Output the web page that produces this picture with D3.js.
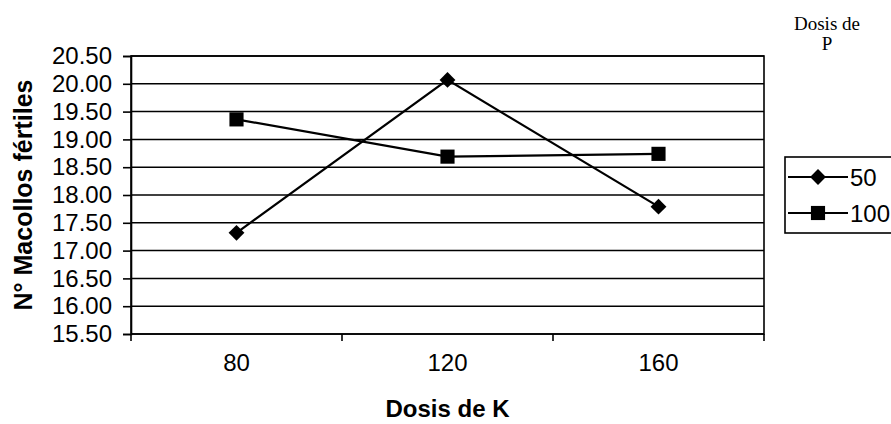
<!DOCTYPE html>
<html lang="es">
<head>
<meta charset="UTF-8">
<title>N° Macollos fértiles vs Dosis de K</title>
<script src="https://d3js.org/d3.v7.min.js"></script>
<style>
  body { margin: 0; background: #fff; }
  svg text { font-family: "Liberation Sans", Arial, sans-serif; fill: #000; }
</style>
</head>
<body>
<div id="chart"></div>
<script>
// data
const doses = ["80", "120", "160"];
const seriesNames = ["50", "100"];
const p50 = [17.32, 20.07, 17.79];
const p100 = [19.36, 18.69, 18.74];
const yTicks = [15.5, 16, 16.5, 17, 17.5, 18, 18.5, 19, 19.5, 20, 20.5];

const width = 891, height = 424;
const margin = { top: 56, right: 127, bottom: 90, left: 131 };

const svg = d3.select("#chart").append("svg")
    .attr("width", width)
    .attr("height", height);

const x = d3.scaleBand()
    .domain(doses)
    .range([margin.left, width - margin.right]);

const y = d3.scaleLinear()
    .domain([15.5, 20.5])
    .range([height - margin.bottom, margin.top]);

// gridlines
svg.append("g")
    .selectAll("line")
    .data(yTicks)
    .join("line")
    .attr("x1", margin.left)
    .attr("x2", width - margin.right)
    .attr("y1", d => y(d))
    .attr("y2", d => y(d))
    .attr("stroke", "#000")
    .attr("stroke-width", 1.5);

// plot frame
svg.append("rect")
    .attr("x", margin.left)
    .attr("y", margin.top)
    .attr("width", width - margin.right - margin.left)
    .attr("height", height - margin.bottom - margin.top)
    .attr("fill", "none")
    .attr("stroke", "#000")
    .attr("stroke-width", 1.6);

// y axis
const yAxis = svg.append("g")
    .attr("transform", `translate(${margin.left},0)`)
    .call(d3.axisLeft(y).tickValues(yTicks).tickFormat(d3.format(".2f")).tickSize(8).tickPadding(11));
yAxis.select(".domain").attr("stroke-width", 1.6);
yAxis.selectAll("line").attr("stroke-width", 1.6);
yAxis.selectAll("text").style("font-size", "24px");

// x axis: ticks between categories
const bounds = [margin.left, ...doses.slice(1).map(d => x(d)), width - margin.right];
svg.append("g")
    .selectAll("line")
    .data(bounds)
    .join("line")
    .attr("x1", d => d)
    .attr("x2", d => d)
    .attr("y1", y(15.5))
    .attr("y2", y(15.5) + 7)
    .attr("stroke", "#000")
    .attr("stroke-width", 1.6);

svg.append("g")
    .selectAll("text")
    .data(doses)
    .join("text")
    .attr("x", d => x(d) + x.bandwidth() / 2)
    .attr("y", y(15.5) + 37)
    .attr("text-anchor", "middle")
    .style("font-size", "24px")
    .text(d => d);

// axis titles
svg.append("text")
    .attr("x", (margin.left + width - margin.right) / 2)
    .attr("y", 417)
    .attr("text-anchor", "middle")
    .style("font-size", "24px")
    .style("font-weight", "bold")
    .text("Dosis de K");

svg.append("text")
    .attr("transform", `translate(32,${(margin.top + height - margin.bottom) / 2}) rotate(-90)`)
    .attr("text-anchor", "middle")
    .style("font-size", "25px")
    .style("font-weight", "bold")
    .text("N° Macollos fértiles");

// series
const cx = i => x(doses[i]) + x.bandwidth() / 2;
const line = d3.line().x((d, i) => cx(i)).y(d => y(d));
const diamond = d3.symbol().type(d3.symbolDiamond2).size(160);
const square = d3.symbol().type(d3.symbolSquare).size(200);

[[p50, diamond], [p100, square]].forEach(([vals, sym]) => {
    svg.append("path")
        .datum(vals)
        .attr("d", line)
        .attr("fill", "none")
        .attr("stroke", "#000")
        .attr("stroke-width", 2.2);
    svg.append("g")
        .selectAll("path")
        .data(vals)
        .join("path")
        .attr("transform", (d, i) => `translate(${cx(i)},${y(d)})`)
        .attr("d", sym)
        .attr("fill", "#000");
});

// legend
const legend = svg.append("g").attr("transform", "translate(785,157)");
legend.append("rect")
    .attr("width", 120)
    .attr("height", 76)
    .attr("fill", "#fff")
    .attr("stroke", "#000")
    .attr("stroke-width", 1.6);
seriesNames.forEach((name, i) => {
    const ly = 20 + i * 36;
    legend.append("line")
        .attr("x1", 3).attr("x2", 63)
        .attr("y1", ly).attr("y2", ly)
        .attr("stroke", "#000").attr("stroke-width", 2.2);
    legend.append("path")
        .attr("transform", `translate(33,${ly})`)
        .attr("d", i === 0 ? diamond : square)
        .attr("fill", "#000");
    legend.append("text")
        .attr("x", 65)
        .attr("y", ly + 9)
        .style("font-size", "24px")
        .text(name);
});

svg.append("text")
    .attr("x", 827)
    .attr("y", 30)
    .attr("text-anchor", "middle")
    .style("font-family", "'Liberation Serif', 'Times New Roman', serif")
    .style("font-size", "19px")
    .text("Dosis de");
svg.append("text")
    .attr("x", 827)
    .attr("y", 50)
    .attr("text-anchor", "middle")
    .style("font-family", "'Liberation Serif', 'Times New Roman', serif")
    .style("font-size", "19px")
    .text("P");
</script>
</body>
</html>
